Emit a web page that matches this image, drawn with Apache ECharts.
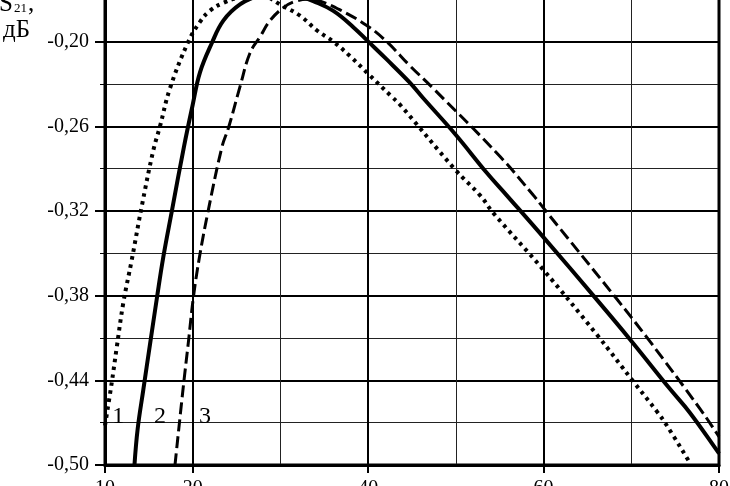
<!DOCTYPE html>
<html><head><meta charset="utf-8">
<script src="https://cdn.jsdelivr.net/npm/echarts@6/dist/echarts.min.js"></script>
<style>html,body{margin:0;padding:0;background:#fff;overflow:hidden}#c{width:730px;height:486px}</style>
</head><body><div id="c"></div>
<script>
const xTickLabels = [10, 20, 40, 60, 80];
const yTickLabels = [-0.50, -0.44, -0.38, -0.32, -0.26, -0.20];

const curve1 = [
  [10.0,-0.472],[10.76,-0.442],[11.33,-0.417],[12.09,-0.385],[13.04,-0.355],[14.18,-0.317],
  [15.51,-0.277],[16.27,-0.260],[17.41,-0.233],[19.50,-0.200],[20.83,-0.186],[21.97,-0.178],
  [23.49,-0.1725],[25.28,-0.1685],[27.1,-0.1660],[28.59,-0.1685],[29.95,-0.1736],[32.23,-0.1816],
  [34.14,-0.1919],[36.03,-0.2000],[37.94,-0.2103],[40.02,-0.2229],[42.69,-0.2390],[43.64,-0.2447],
  [49.91,-0.2906],[52.76,-0.3089],[54.28,-0.3215],[59.98,-0.3617],[66.07,-0.4076],[70.24,-0.4409],
  [72.91,-0.4620],[74.05,-0.4720],[76.51,-0.4967]
];
const curve2 = [
  [13.36,-0.500],[13.72,-0.4746],[14.37,-0.4466],[15.13,-0.4145],[15.90,-0.3824],[16.65,-0.3525],
  [17.61,-0.3204],[19.0,-0.2745],[20.0,-0.2447],[20.83,-0.2217],[22.17,-0.2011],[23.49,-0.1851],
  [25.39,-0.1736],[27.67,-0.1672],[30.30,-0.1651],[32.23,-0.1679],[33.75,-0.1713],[36.03,-0.1782],
  [38.31,-0.1897],[40.02,-0.2000],[42.12,-0.2126],[44.78,-0.2292],[46.29,-0.2401],[49.91,-0.2654],
  [53.52,-0.2929],[55.80,-0.3089],[60.17,-0.3399],[65.68,-0.3800],[69.86,-0.4110],[74.42,-0.4462],
  [76.70,-0.4631],[79.90,-0.4909],[80.0,-0.4919]
];
const curve3 = [
  [17.98,-0.500],[18.89,-0.4466],[19.52,-0.4122],[20.09,-0.3805],[20.78,-0.3523],[21.74,-0.3206],
  [23.34,-0.2745],[24.09,-0.2608],[25.39,-0.2319],[26.53,-0.2080],[27.67,-0.1966],[28.81,-0.1851],
  [30.33,-0.1759],[31.6,-0.1716],[33.1,-0.1700],[34.52,-0.1713],[36.80,-0.1775],[39.84,-0.1885],
  [42.12,-0.2000],[44.78,-0.2172],[47.43,-0.2332],[55.04,-0.2814],[58.84,-0.3089],
  [60.17,-0.3193],[68.35,-0.3824],[71.95,-0.4110],[77.86,-0.4604],[79.76,-0.4777],[80.0,-0.4800]
];
const curveLabels = [[11.52,-0.466,'1'],[16.27,-0.466,'2'],[21.40,-0.466,'3']];
const axisTitle = ['S', '21', ',', 'дБ'];

const font = '"Liberation Serif","Times New Roman",serif';
const chart = echarts.init(document.getElementById('c'), null, {renderer: 'canvas'});

function fmtY(v) {
  for (const t of yTickLabels) if (Math.abs(v - t) < 1e-6) return t.toFixed(2).replace('.', ',');
  return '';
}

const option = {
  animation: false,
  backgroundColor: '#fff',
  grid: {left: 105, right: 11, top: -43, bottom: 21, containLabel: false, outerBoundsMode: 'none',
         show: true, borderColor: '#000', borderWidth: 3, backgroundColor: '#fff'},
  xAxis: [
    {type: 'value', min: 10, max: 80, interval: 10,
     axisLine: {lineStyle: {color: '#000', width: 3}},
     axisTick: {show: false}, axisLabel: {show: false},
     splitLine: {show: true, lineStyle: {color: '#222', width: 1}}},
    {type: 'value', min: 10, max: 80, interval: 10, position: 'bottom',
     axisLine: {show: false},
     axisTick: {show: true, customValues: xTickLabels, length: 8, lineStyle: {color: '#000', width: 2}},
     axisLabel: {show: true, customValues: xTickLabels, margin: 14, color: '#000', fontFamily: font, fontSize: 20},
     splitLine: {show: true, lineStyle: {color: '#000', width: 2}}}
  ],
  yAxis: {
    type: 'value', min: -0.50, max: -0.14, interval: 0.06,
    axisLine: {show: true, lineStyle: {color: '#000', width: 3}},
    axisTick: {show: true, length: 10, lineStyle: {color: '#000', width: 2}},
    minorTick: {show: true, splitNumber: 2, length: 5, lineStyle: {color: '#000', width: 1}},
    axisLabel: {margin: 16, color: '#000', fontFamily: font, fontSize: 20, formatter: fmtY},
    splitLine: {show: true, lineStyle: {color: '#000', width: 2}},
    minorSplitLine: {show: true, lineStyle: {color: '#222', width: 1}}
  },
  graphic: [
    {type: 'text', x: -1, y: -8, style: {text: axisTitle[0], font: '25px ' + font, fill: '#000'}},
    {type: 'text', x: 14, y: 2, style: {text: axisTitle[1], font: '13px ' + font, fill: '#000'}},
    {type: 'text', x: 28, y: -8, style: {text: axisTitle[2], font: '25px ' + font, fill: '#000'}},
    {type: 'text', x: 3, y: 18, style: {text: axisTitle[3], font: '25px ' + font, fill: '#000'}}
  ],
  series: [
    {name: '1', type: 'line', data: curve1, showSymbol: false, smooth: 0.4, z: 3,
     lineStyle: {color: '#000', width: 4, type: [3.5, 4.5], cap: 'butt'}},
    {name: '2', type: 'line', data: curve2, showSymbol: false, smooth: 0.4, z: 3,
     lineStyle: {color: '#000', width: 4, type: 'solid'}},
    {name: '3', type: 'line', data: curve3, showSymbol: false, smooth: 0.4, z: 3,
     lineStyle: {color: '#000', width: 3, type: [12, 5]}},
    {type: 'scatter', data: curveLabels, symbol: 'circle', symbolSize: 2,
     itemStyle: {color: 'rgba(0,0,0,0)'}, z: 4,
     label: {show: true, position: 'inside', formatter: p => p.value[2], color: '#000',
             fontFamily: font, fontSize: 24, opacity: 1}}
  ]
};
chart.setOption(option);
</script></body></html>
